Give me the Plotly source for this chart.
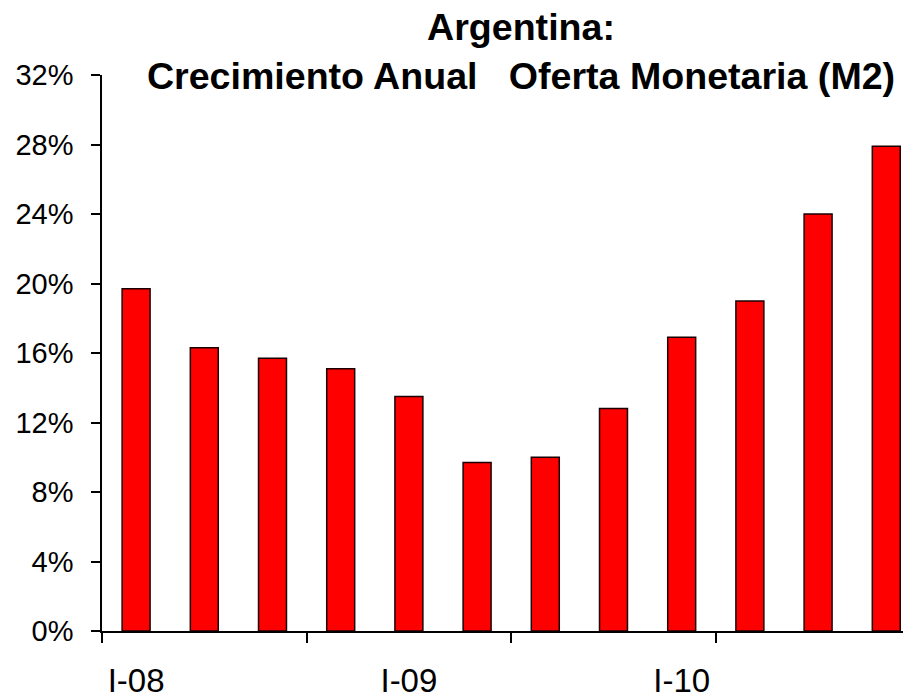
import plotly.graph_objects as go

# Quarterly year-on-year growth of the M2 money supply (Argentina)
quarters = ["I-08", "II-08", "III-08", "IV-08",
            "I-09", "II-09", "III-09", "IV-09",
            "I-10", "II-10", "III-10", "IV-10"]
growth_pct = [19.7, 16.3, 15.7, 15.1, 13.5, 9.7, 10.0, 12.8, 16.9, 19.0, 24.0, 27.9]

year_labels = ["I-08", "I-09", "I-10"]
y_ticks = [0, 4, 8, 12, 16, 20, 24, 28, 32]
y_ticktext = [f"{v}%" for v in y_ticks]
# tick marks fall between categories, every three quarters
x_tick_marks = [-0.5, 2.5, 5.5, 8.5, 11.5]

FONT = "Arial, Liberation Sans, sans-serif"
x_range = [-0.5, 11.245]

fig = go.Figure()
fig.add_trace(go.Bar(
    x=quarters, y=growth_pct,
    marker=dict(color="#FF0000", line=dict(color="#1a0000", width=1.5)),
    hoverinfo="x+y",
))
# empty trace so the overlay axis carrying the tick marks is drawn
fig.add_trace(go.Scatter(x=[], y=[], xaxis="x2", showlegend=False))

fig.update_layout(
    width=903, height=698,
    margin=dict(l=102, r=0, t=75, b=67, autoexpand=False),
    paper_bgcolor="white", plot_bgcolor="white",
    showlegend=False,
    bargap=0.59,
    title=dict(
        text="Argentina:<br>Crecimiento Anual\u00a0\u00a0\u00a0Oferta Monetaria (M2)",
        x=521 / 903, xanchor="center", xref="container",
        y=1 - 40 / 698, yanchor="top", yref="container",
        font=dict(family=FONT, size=37.6, color="black", weight="bold"),
        automargin=False,
    ),
    xaxis=dict(
        type="category", categoryorder="array", categoryarray=quarters,
        range=x_range, automargin=False,
        tickmode="array", tickvals=year_labels, ticktext=year_labels,
        ticks="", showgrid=False, zeroline=False,
        showline=True, linecolor="black", linewidth=1.5,
        tickfont=dict(family=FONT, size=33, color="black"),
        ticklabelstandoff=20,
    ),
    xaxis2=dict(
        overlaying="x", anchor="y", side="bottom",
        range=x_range, automargin=False,
        tickmode="array", tickvals=x_tick_marks,
        ticks="outside", ticklen=11, tickwidth=1.5, tickcolor="black",
        showticklabels=False, showgrid=False, zeroline=False, showline=False,
    ),
    yaxis=dict(
        range=[0, 32], automargin=False,
        tickmode="array", tickvals=y_ticks, ticktext=y_ticktext,
        ticks="outside", ticklen=9, tickwidth=1.5, tickcolor="black",
        showgrid=False, zeroline=False,
        showline=True, linecolor="black", linewidth=1.5,
        tickfont=dict(family=FONT, size=29, color="black"),
        ticklabelstandoff=12,
    ),
)

fig.write_html("out.html")
